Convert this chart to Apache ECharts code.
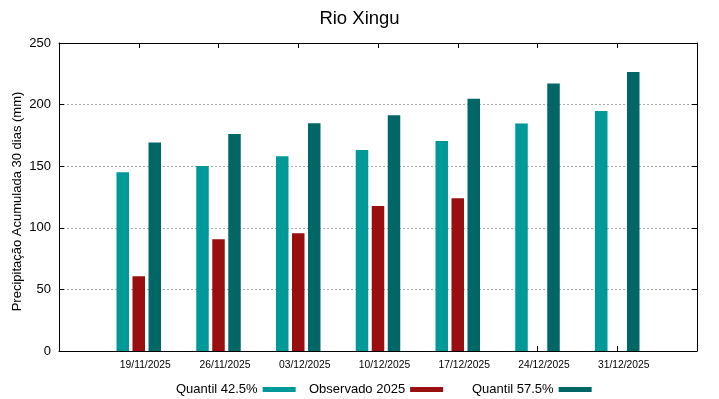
<!DOCTYPE html>
<html>
<head>
<meta charset="utf-8">
<script src="https://cdn.jsdelivr.net/npm/echarts@6/dist/echarts.min.js"></script>
<style>
  html, body { margin: 0; padding: 0; background: #fff; }
  #chart { width: 719px; height: 399px; }
</style>
</head>
<body>
<div id="chart"></div>
<script>
// datas das semanas (posições 1..7 no eixo x)
const dates = ['19/11/2025', '26/11/2025', '03/12/2025', '10/12/2025', '17/12/2025', '24/12/2025', '31/12/2025']
const quantil425 = [145.1, 150.2, 158.1, 163.2, 170.4, 184.6, 194.9]
const observado = [60.7, 90.8, 95.5, 117.7, 123.9]
const quantil575 = [169.2, 176.2, 184.9, 191.3, 204.7, 217.1, 226.4]
const yTicks = [0, 50, 100, 150, 200, 250]

const FONT = 'Liberation Sans'
const toPairs = (list) => list.map((v, i) => [i + 1, v])

const chart = echarts.init(document.getElementById('chart'))

const axisLine = { show: true, onZero: false, lineStyle: { color: '#000', width: 1 } }
const ticks = { show: true, inside: true, length: 5, lineStyle: { color: '#000' } }

const legendBase = {
	top: 378,
	align: 'right',
	icon: 'rect',
	itemWidth: 33,
	itemHeight: 5,
	selectedMode: false,
	textStyle: { fontFamily: FONT, fontSize: 13, color: '#000' },
}

const option = {
	animation: false,
	title: {
		text: 'Rio Xingu',
		left: 'center',
		top: 4,
		textStyle: { fontFamily: FONT, fontSize: 18.5, fontWeight: 'normal', color: '#000' },
	},
	legend: [
		{ ...legendBase, left: 171, data: ['Quantil 42.5%'] },
		{ ...legendBase, left: 304, data: ['Observado 2025'] },
		{ ...legendBase, left: 467, data: ['Quantil 57.5%'] },
	],
	grid: { left: 59, right: 22, top: 43, bottom: 48, containLabel: false, outerBoundsMode: 'none' },
	xAxis: [
		{
			type: 'value',
			min: 0,
			max: 8,
			interval: 1,
			position: 'bottom',
			axisLine: axisLine,
			axisTick: ticks,
			splitLine: { show: false },
			axisLabel: {
				margin: 9,
				fontFamily: FONT,
				fontSize: 10.3,
				color: '#000',
				padding: [0, 0, 0, 13],
				formatter: (v) => (v >= 1 && v <= dates.length ? dates[v - 1] : ''),
			},
		},
		{
			type: 'value',
			min: 0,
			max: 8,
			interval: 1,
			position: 'top',
			axisLine: axisLine,
			axisTick: ticks,
			splitLine: { show: false },
			axisLabel: { show: false },
		},
	],
	yAxis: [
		{
			type: 'value',
			min: yTicks[0],
			max: yTicks[yTicks.length - 1],
			interval: 50,
			position: 'left',
			name: 'Precipitação Acumulada 30 dias (mm)',
			nameLocation: 'middle',
			nameGap: 35,
			nameMoveOverlap: false,
			nameTextStyle: { fontFamily: FONT, fontSize: 13, color: '#000', padding: [0, 9, 0, 0] },
			axisLine: axisLine,
			axisTick: ticks,
			axisLabel: { margin: 8, fontFamily: FONT, fontSize: 13, color: '#000' },
			splitLine: { show: true, lineStyle: { color: '#a8a8a8', type: [2, 2], width: 1 } },
		},
		{
			type: 'value',
			min: yTicks[0],
			max: yTicks[yTicks.length - 1],
			interval: 50,
			position: 'right',
			axisLine: axisLine,
			axisTick: ticks,
			axisLabel: { show: false },
			splitLine: { show: false },
		},
	],
	series: [
		{
			name: 'Quantil 42.5%',
			type: 'bar',
			barWidth: 12.5,
			barGap: '28%',
			itemStyle: { color: '#009999' },
			data: toPairs(quantil425),
		},
		{
			name: 'Observado 2025',
			type: 'bar',
			barWidth: 12.5,
			barGap: '28%',
			itemStyle: { color: '#990e0e' },
			data: toPairs(observado),
		},
		{
			name: 'Quantil 57.5%',
			type: 'bar',
			barWidth: 12.5,
			barGap: '28%',
			itemStyle: { color: '#006666' },
			data: toPairs(quantil575),
		},
	],
}

chart.setOption(option)
</script>
</body>
</html>
